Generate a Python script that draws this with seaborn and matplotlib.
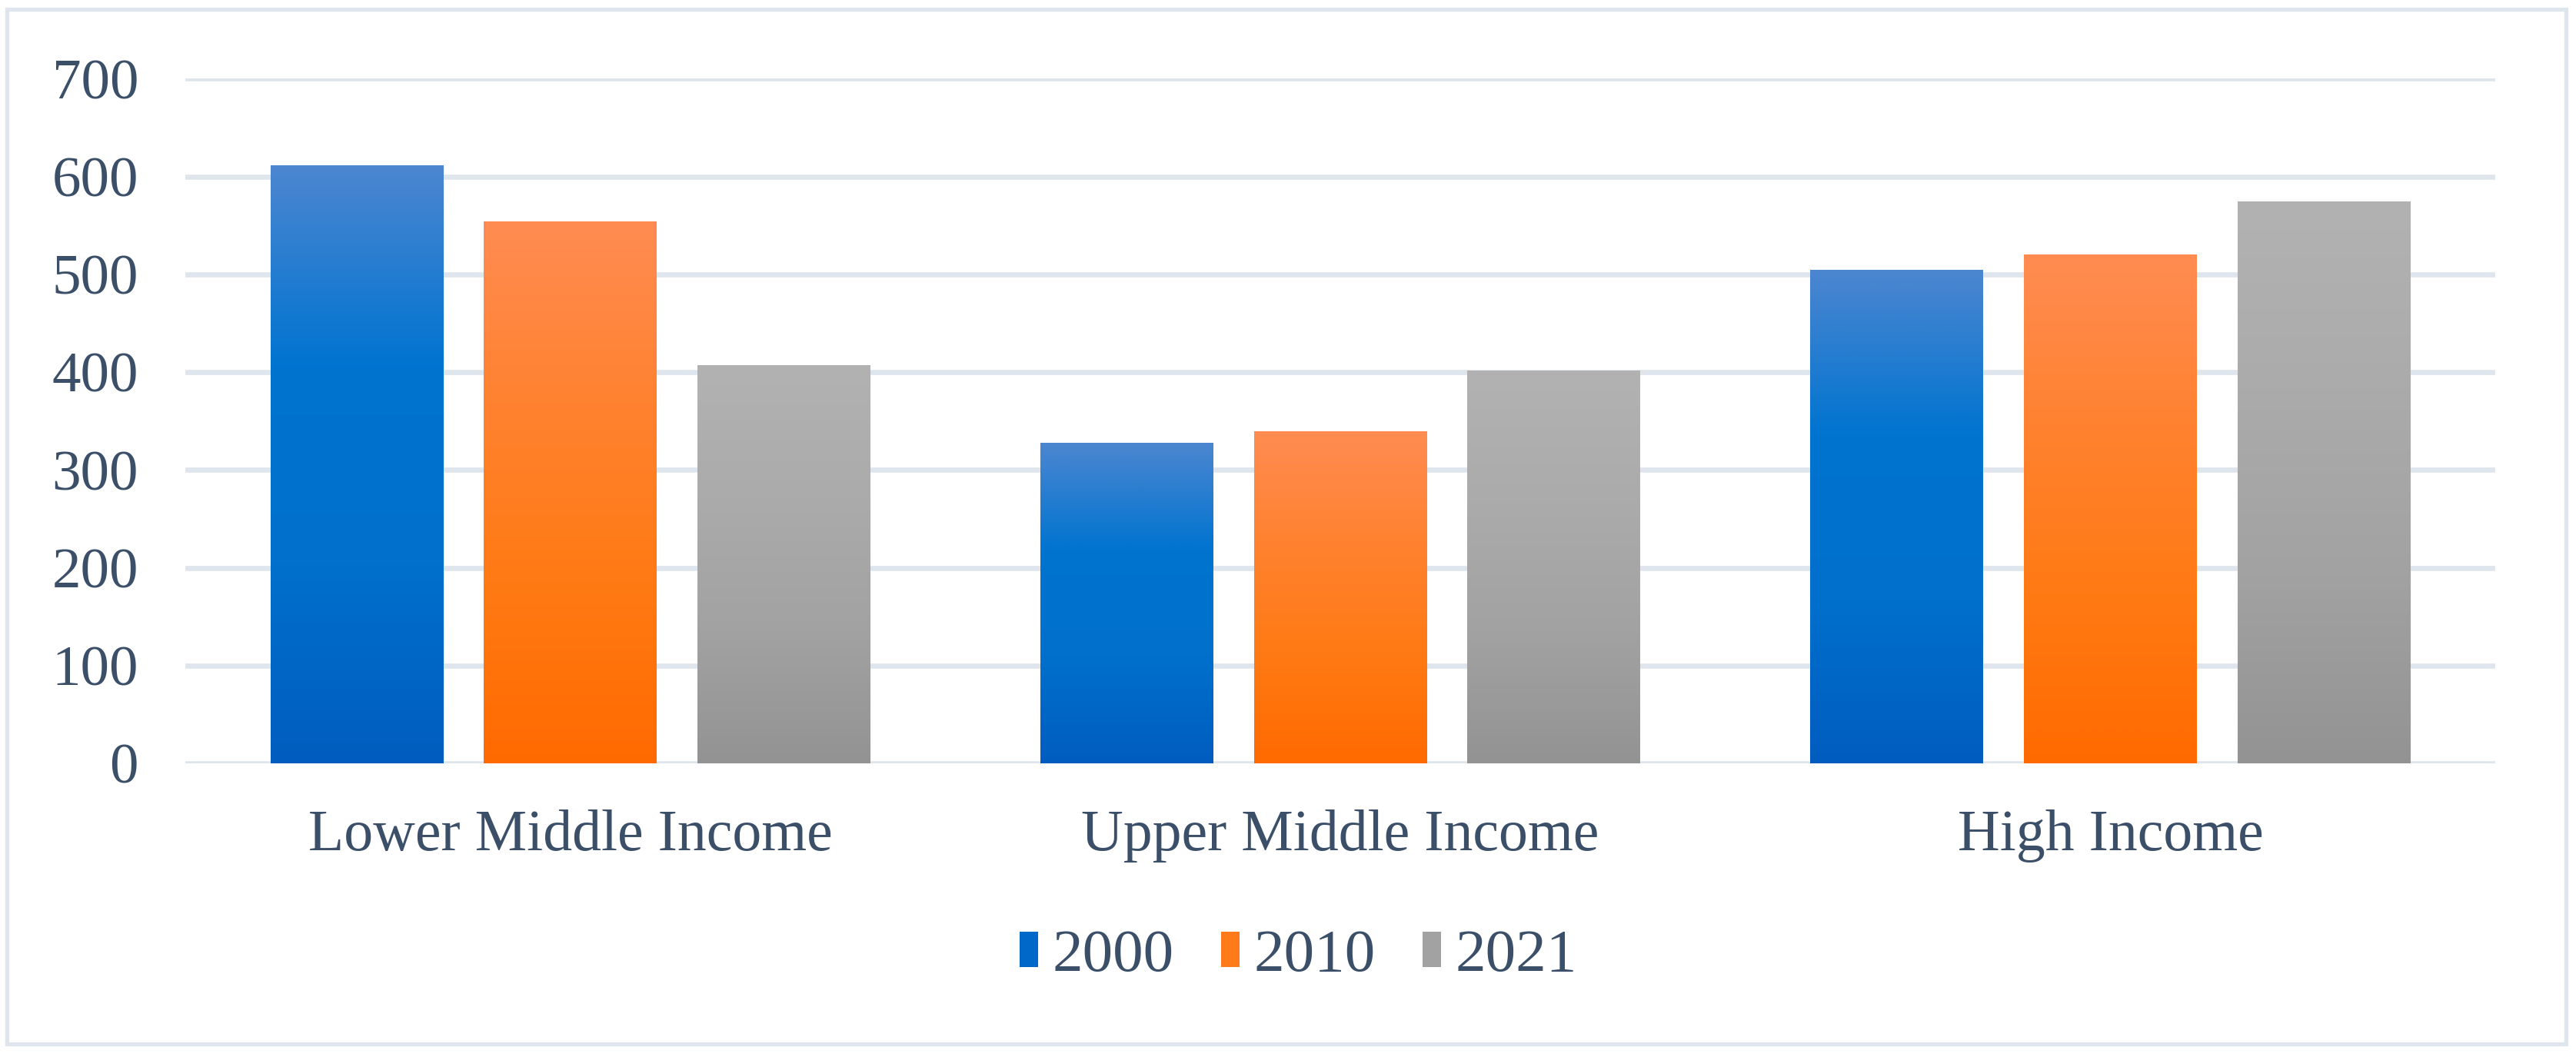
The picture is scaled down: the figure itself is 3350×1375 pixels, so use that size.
import numpy as np
import pandas as pd
import seaborn as sns
import matplotlib.pyplot as plt
from matplotlib.colors import LinearSegmentedColormap
from matplotlib.patches import Patch, Rectangle

# данные с графика
categories = ["Lower Middle Income", "Upper Middle Income", "High Income"]
years = ["2000", "2010", "2021"]
values_2000 = [611, 327, 504]
values_2010 = [554, 339, 520]
values_2021 = [407, 401, 574]
y_ticks = [0, 100, 200, 300, 400, 500, 600, 700]

# градиенты (низ -> верх)
grad_stops = {
    "2000": ["#005DBF", "#0070CC", "#0074D0", "#4C86D0"],
    "2010": ["#FF6A00", "#FF7A14", "#FF8230", "#FF8C52"],
    "2021": ["#939393", "#A2A2A2", "#ABABAB", "#B2B2B2"],
}
legend_colors = {"2000": "#0068C8", "2010": "#FF7A1A", "2021": "#A2A2A2"}
text_color = "#3B5068"
grid_color = "#DEE5EC"

df = pd.DataFrame({
    "category": categories * 3,
    "year": [y for y in years for _ in categories],
    "value": values_2000 + values_2010 + values_2021,
})

sns.set_style("white")
plt.rcParams["font.family"] = ["Liberation Serif", "DejaVu Serif"]

fig = plt.figure(figsize=(33.5, 13.75), dpi=100)
ax = fig.add_axes([0.072, 0.2778, 0.8967, 0.6477])

sns.barplot(data=df, x="category", y="value", hue="year", order=categories,
            hue_order=years, palette=legend_colors, width=0.832, gap=0.19,
            ax=ax, legend=False, errorbar=None, saturation=1)

# заливка каждого столбца вертикальным градиентом
grad = np.linspace(0, 1, 256).reshape(-1, 1)
for year, cont in zip(years, ax.containers):
    cmap = LinearSegmentedColormap.from_list("g" + year, grad_stops[year])
    for bar in cont:
        x, w, h = bar.get_x(), bar.get_width(), bar.get_height()
        bar.set_facecolor("none")
        bar.set_edgecolor("none")
        ax.imshow(grad, extent=[x, x + w, 0, h], origin="lower", aspect="auto",
                  cmap=cmap, zorder=2, interpolation="bicubic")

ax.set_xlim(-0.5, 2.5)
ax.set_ylim(0, 700)
ax.set_yticks(y_ticks)
ax.set_axisbelow(True)
ax.yaxis.grid(True, color=grid_color, linewidth=4.8)
ax.xaxis.grid(False)
for s in ax.spines.values():
    s.set_visible(False)
ax.set_xlabel("")
ax.set_ylabel("")
ax.tick_params(axis="y", length=0, pad=44, labelsize=54, labelcolor=text_color)
ax.tick_params(axis="x", length=0, pad=43, labelsize=54.5, labelcolor=text_color)

handles = [Patch(facecolor=legend_colors[y], edgecolor="none", label=y) for y in years]
fig.legend(handles=handles, loc="center", bbox_to_anchor=(0.504, 0.095), ncol=3,
           frameon=False, fontsize=57, labelcolor=text_color,
           handlelength=0.3, handleheight=0.52, handletextpad=0.23,
           columnspacing=0.78)

# рамка вокруг рисунка
fig.patches.append(Rectangle((9 / 3350, 1 - 1358 / 1375), 3328 / 3350, 1346 / 1375,
                             transform=fig.transFigure, fill=False,
                             edgecolor=grid_color, linewidth=3.8))

fig.savefig("out.png", dpi=100)
